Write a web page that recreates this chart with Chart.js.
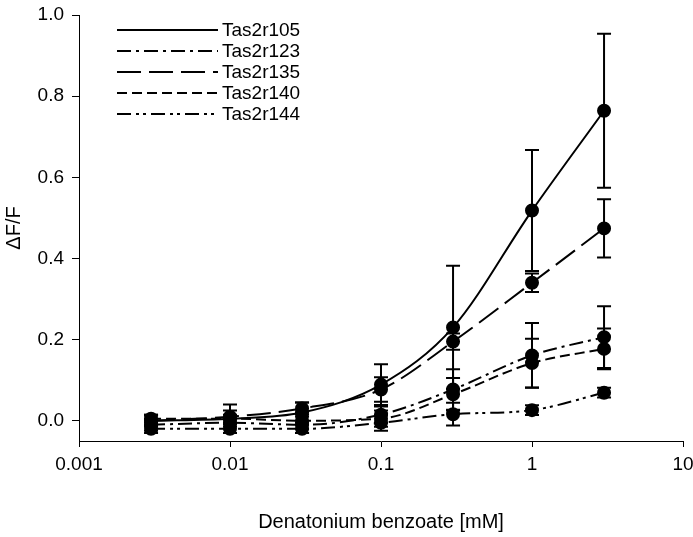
<!DOCTYPE html>
<html>
<head>
<meta charset="utf-8">
<script src="https://cdn.jsdelivr.net/npm/chart.js@4"></script>
<style>
  html, body { margin: 0; padding: 0; background: #fff; }
  #wrap { width: 693px; height: 537px; }
</style>
</head>
<body>
<div id="wrap"><canvas id="chart" width="693" height="537"></canvas></div>
<script>
// concentrations (mM)
const concentrations = [0.003, 0.01, 0.03, 0.1, 0.3, 1, 3]

// mean dF/F per receptor
const tas2r105 = [0.0, 0.005, 0.02, 0.089, 0.23, 0.518, 0.764]
const tas2r123 = [-0.01, -0.005, -0.01, 0.015, 0.077, 0.161, 0.206]
const tas2r135 = [0.0, 0.01, 0.03, 0.077, 0.195, 0.34, 0.474]
const tas2r140 = [0.005, 0.005, 0.0, 0.005, 0.065, 0.142, 0.177]
const tas2r144 = [-0.02, -0.02, -0.02, -0.005, 0.016, 0.026, 0.069]

// error (+/-)
const err105 = [0.015, 0.035, 0.025, 0.05, 0.152, 0.149, 0.19]
const err123 = [0.015, 0.01, 0.02, 0.02, 0.05, 0.08, 0.076]
const err135 = [0.012, 0.015, 0.015, 0.03, 0.02, 0.023, 0.072]
const err140 = [0.01, 0.01, 0.02, 0.02, 0.04, 0.06, 0.05]
const err144 = [0.01, 0.01, 0.01, 0.02, 0.028, 0.012, 0.012]

const xTicks = [0.001, 0.01, 0.1, 1, 10]
const xTickLabels = ["0.001", "0.01", "0.1", "1", "10"]
const yTicks = [0, 0.2, 0.4, 0.6, 0.8, 1.0]

const FONT = "'Liberation Sans', Arial, sans-serif"

function series(label, values, errors, dash) {
  return {
    label: label,
    data: concentrations.map((x, i) => ({ x: x, y: values[i] })),
    errors: errors,
    borderColor: "#000",
    backgroundColor: "#000",
    borderWidth: 2,
    borderDash: dash,
    pointRadius: 6,
    pointHoverRadius: 6,
    pointBackgroundColor: "#000",
    pointBorderColor: "#000",
    showLine: true,
    fill: false,
    cubicInterpolationMode: "monotone"
  }
}

// draws the +/- error bars from the dataset's errors
const errorBars = {
  id: "errorBars",
  afterDatasetsDraw(chart) {
    const ctx = chart.ctx
    const y = chart.scales.y
    ctx.save()
    ctx.strokeStyle = "#000"
    ctx.lineWidth = 2
    ctx.setLineDash([])
    chart.data.datasets.forEach((ds, di) => {
      const meta = chart.getDatasetMeta(di)
      meta.data.forEach((pt, i) => {
        const v = ds.data[i].y
        const e = ds.errors[i]
        const top = y.getPixelForValue(v + e)
        const bot = y.getPixelForValue(v - e)
        ctx.beginPath()
        ctx.moveTo(pt.x, top); ctx.lineTo(pt.x, bot)
        ctx.moveTo(pt.x - 7, top); ctx.lineTo(pt.x + 7, top)
        ctx.moveTo(pt.x - 7, bot); ctx.lineTo(pt.x + 7, bot)
        ctx.stroke()
      })
    })
    ctx.restore()
  }
}

// legend with long line samples, upper left of the plot
const lineLegend = {
  id: "lineLegend",
  afterDraw(chart) {
    const ctx = chart.ctx
    const x0 = 117, x1 = 218, yStart = 30, step = 21
    ctx.save()
    ctx.font = "19px " + FONT
    ctx.fillStyle = "#000"
    ctx.textBaseline = "middle"
    chart.data.datasets.forEach((ds, i) => {
      const yy = yStart + i * step
      ctx.strokeStyle = "#000"
      ctx.lineWidth = 2
      ctx.setLineDash(ds.borderDash || [])
      ctx.beginPath()
      ctx.moveTo(x0, yy); ctx.lineTo(x1, yy)
      ctx.stroke()
      ctx.setLineDash([])
      ctx.fillText(ds.label, x1 + 4, yy + 1)
    })
    ctx.restore()
  }
}

new Chart(document.getElementById("chart").getContext("2d"), {
  type: "scatter",
  data: {
    datasets: [
      series("Tas2r105", tas2r105, err105, []),
      series("Tas2r123", tas2r123, err123, [14, 5, 3, 5]),
      series("Tas2r135", tas2r135, err135, [24, 8]),
      series("Tas2r140", tas2r140, err140, [10, 5]),
      series("Tas2r144", tas2r144, err144, [14, 5, 3, 4, 3, 5])
    ]
  },
  options: {
    responsive: false,
    animation: false,
    layout: { padding: { top: 15, right: 10, bottom: 0, left: 0 } },
    plugins: {
      legend: { display: false },
      tooltip: { enabled: false }
    },
    scales: {
      x: {
        type: "logarithmic",
        min: 0.001,
        max: 10,
        afterBuildTicks: (s) => { s.ticks = xTicks.map(v => ({ value: v })) },
        afterFit: (s) => { s.height = 96; s.paddingLeft = 0; s.paddingRight = 0 },
        ticks: {
          color: "#000",
          font: { family: FONT, size: 19 },
          padding: 6,
          maxRotation: 0,
          autoSkip: false,
          callback: (v) => xTickLabels[xTicks.indexOf(v)]
        },
        grid: { display: true, drawOnChartArea: false, drawTicks: true, tickLength: 6, color: "#000" },
        border: { display: true, color: "#000", width: 1 },
        title: {
          display: true,
          text: "Denatonium benzoate [mM]",
          color: "#000",
          font: { family: FONT, size: 20 },
          padding: { top: 0, bottom: 3 }
        }
      },
      y: {
        min: -0.05,
        max: 1.0,
        afterBuildTicks: (s) => { s.ticks = yTicks.map(v => ({ value: v })) },
        afterFit: (s) => { s.width = 79; s.paddingTop = 0; s.paddingBottom = 0 },
        ticks: {
          color: "#000",
          font: { family: FONT, size: 19 },
          padding: 8,
          callback: (v) => v.toFixed(1)
        },
        grid: { display: true, drawOnChartArea: false, drawTicks: true, tickLength: 7, color: "#000" },
        border: { display: true, color: "#000", width: 1 },
        title: {
          display: true,
          text: "ΔF/F",
          color: "#000",
          font: { family: FONT, size: 20 },
          padding: { top: 2, bottom: 0 }
        }
      }
    }
  },
  plugins: [errorBars, lineLegend]
})
</script>
</body>
</html>
